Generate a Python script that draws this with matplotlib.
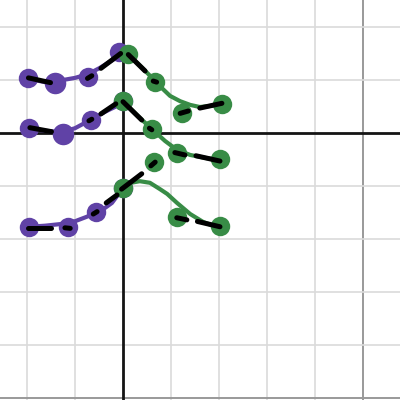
import numpy as np
import matplotlib
matplotlib.use("Agg")
import matplotlib.pyplot as plt

PURPLE = "#6042a6"
GREEN = "#388c46"

# ── points (graph units) ──────────────────────────────────────────────────────
purple_top_x = [-1.97, -1.42, -0.72, -0.08]
purple_top_y = [1.04, 0.95, 1.06, 1.52]
green_top_x = [0.11, 0.67, 1.22, 2.06]
green_top_y = [1.49, 0.97, 0.38, 0.55]

purple_mid_x = [-1.95, -1.26, -0.67, 0.0]
purple_mid_y = [0.10, -0.01, 0.25, 0.60]
green_mid_x = [0.0, 0.61, 1.12, 2.01, 0.65]
green_mid_y = [0.60, 0.07, -0.38, -0.50, -0.54]

purple_bot_x = [-1.96, -1.15, -0.57, 0.0]
purple_bot_y = [-1.78, -1.78, -1.50, -1.04]
green_bot_x = [0.0, 1.12, 2.02]
green_bot_y = [-1.04, -1.59, -1.75]

big_x = [-1.42, -1.26]
big_y = [0.95, -0.01]

# ── fitted curves ─────────────────────────────────────────────────────────────
curve_purple_top_x = [-1.96, -1.625, -1.40, -1.25, -1.00, -0.73, -0.48, -0.21, -0.06]
curve_purple_top_y = [1.02, 0.96, 0.96, 1.00, 1.04, 1.11, 1.23, 1.38, 1.51]
curve_green_top_x = [0.10, 0.40, 0.67, 0.83, 0.98, 1.19, 1.40, 1.60, 1.81, 2.06]
curve_green_top_y = [1.49, 1.23, 0.98, 0.83, 0.70, 0.60, 0.53, 0.49, 0.51, 0.55]

curve_purple_mid_x = [-1.96, -1.625, -1.27, -1.00, -0.67, -0.375, -0.17, 0.0]
curve_purple_mid_y = [0.09, 0.04, 0.02, 0.09, 0.25, 0.40, 0.49, 0.60]
curve_green_mid_x = [0.0, 0.31, 0.60, 0.875, 1.125, 1.40, 1.71, 2.0]
curve_green_mid_y = [0.60, 0.32, 0.075, -0.15, -0.32, -0.415, -0.47, -0.51]

curve_purple_bot_x = [-1.96, -1.625, -1.31, -1.04, -0.75, -0.56, -0.375, -0.23, 0.0]
curve_purple_bot_y = [-1.77, -1.75, -1.72, -1.68, -1.58, -1.49, -1.415, -1.32, -1.04]
curve_green_bot_x = [0.0, 0.17, 0.35, 0.56, 0.77, 0.92, 1.125, 1.40, 1.67, 1.85, 2.02]
curve_green_bot_y = [-1.04, -0.94, -0.91, -0.94, -1.06, -1.15, -1.32, -1.53, -1.68, -1.74, -1.75]

# ── black dash pieces: (x0, y0, x1, y1) ───────────────────────────────────────
dash_x0 = [-1.97, -0.74, -0.46, 0.11, 0.63, 1.19, 1.60,
           -1.94, -0.71, -0.46, 0.0, 0.55, 1.08, 1.52, 0.58,
           -1.97, -1.21, -0.62, -0.35, -0.03, 1.12, 1.55]
dash_y0 = [1.04, 1.03, 1.22, 1.48, 0.98, 0.37, 0.47,
           0.10, 0.23, 0.36, 0.59, 0.09, -0.37, -0.43, -0.62,
           -1.79, -1.79, -1.53, -1.32, -1.06, -1.60, -1.67]
dash_x1 = [-1.51, -0.65, -0.05, 0.46, 0.70, 1.36, 2.06,
           -1.49, -0.65, -0.15, 0.39, 0.60, 1.29, 2.02, 0.67,
           -1.49, -1.10, -0.54, -0.125, 0.39, 1.33, 2.02]
dash_y1 = [0.95, 1.08, 1.50, 1.17, 0.96, 0.415, 0.56,
           0.025, 0.26, 0.55, 0.245, 0.06, -0.415, -0.53, -0.55,
           -1.79, -1.80, -1.485, -1.17, -0.77, -1.64, -1.77]

fig = plt.figure(figsize=(4, 4), dpi=100)
ax = fig.add_axes([0, 0, 1, 1])
ax.set_xlim(-2.5625, 5.77)
ax.set_ylim(-5.04, 2.51)
ax.axis("off")

# grid
for gx in range(-2, 6):
    c, lw = ("#999999", 1.4) if gx == 5 else ("#dadada", 1.2)
    if gx != 0:
        ax.axvline(gx, color=c, lw=lw, zorder=0)
for gy in range(-5, 3):
    c, lw = ("#999999", 1.4) if gy == -5 else ("#dadada", 1.2)
    if gy != 0:
        ax.axhline(gy, color=c, lw=lw, zorder=0)
ax.axvline(0, color="#141414", lw=2.0, zorder=1)
ax.axhline(0, color="#141414", lw=2.0, zorder=1)

# curves
curve_kw = dict(lw=3.0, solid_capstyle="round", solid_joinstyle="round", zorder=2)
ax.plot(curve_purple_top_x, curve_purple_top_y, color=PURPLE, **curve_kw)
ax.plot(curve_purple_mid_x, curve_purple_mid_y, color=PURPLE, **curve_kw)
ax.plot(curve_purple_bot_x, curve_purple_bot_y, color=PURPLE, **curve_kw)
ax.plot(curve_green_top_x, curve_green_top_y, color=GREEN, **curve_kw)
ax.plot(curve_green_mid_x, curve_green_mid_y, color=GREEN, **curve_kw)
ax.plot(curve_green_bot_x, curve_green_bot_y, color=GREEN, **curve_kw)

# points
pt_kw = dict(ls="none", marker="o", markersize=14, markeredgewidth=0, zorder=3)
for px, py in [(purple_top_x, purple_top_y), (purple_mid_x, purple_mid_y),
               (purple_bot_x, purple_bot_y)]:
    ax.plot(px, py, color=PURPLE, **pt_kw)
ax.plot(big_x, big_y, ls="none", marker="o", markersize=15.5,
        markeredgewidth=0, color=PURPLE, zorder=3)
for px, py in [(green_top_x, green_top_y), (green_mid_x, green_mid_y),
               (green_bot_x, green_bot_y)]:
    ax.plot(px, py, color=GREEN, **pt_kw)

# black dashes
for x0, y0, x1, y1 in zip(dash_x0, dash_y0, dash_x1, dash_y1):
    ax.plot([x0, x1], [y0, y1], color="black", lw=3.6,
            solid_capstyle="round", zorder=4)

fig.savefig("out.png", dpi=100)
